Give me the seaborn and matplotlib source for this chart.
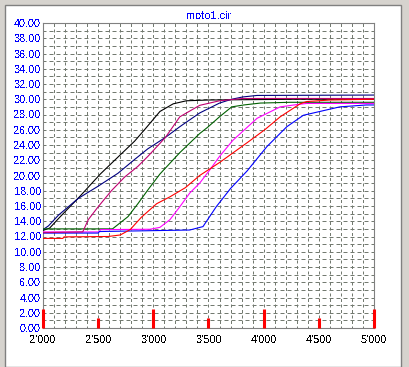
import numpy as np
import pandas as pd
import seaborn as sns
import matplotlib.pyplot as plt
from matplotlib.ticker import MultipleLocator, FuncFormatter
from matplotlib.patches import Rectangle

# curves (x = rpm, y = value)
rpm_black = [2000, 2060, 2150, 2330, 2520, 2700, 2830, 2920, 3060, 3180, 3300, 3500, 4300, 5000]
val_black = [12.8, 13.1, 14.5, 17.2, 20.2, 22.7, 24.5, 26.0, 28.4, 29.4, 29.8, 29.9, 30.0, 30.0]

rpm_navy = [2000, 2050, 2140, 2320, 2500, 2680, 2830, 2950, 3110, 3240, 3420, 3600, 3710, 3810, 3940, 5000]
val_navy = [12.9, 13.4, 14.8, 17.0, 18.6, 20.3, 22.1, 23.5, 25.0, 26.4, 28.2, 29.5, 30.0, 30.3, 30.5, 30.55]

rpm_green = [2000, 2630, 2770, 2860, 2950, 3060, 3240, 3420, 3490, 3600, 3710, 3820, 3970, 4240, 5000]
val_green = [13.0, 13.0, 14.6, 16.3, 18.1, 20.2, 23.0, 25.5, 26.3, 27.7, 29.0, 29.25, 29.5, 29.6, 29.6]

rpm_magenta = [2000, 2510, 2520, 2970, 3060, 3150, 3240, 3330, 3420, 3510, 3600, 3720, 3940, 4150, 4300, 4390, 5000]
val_magenta = [12.6, 12.6, 12.9, 12.95, 13.2, 14.2, 15.9, 17.7, 19.0, 20.7, 22.5, 24.6, 27.5, 29.0, 29.3, 29.45, 29.45]

rpm_blue = [2000, 2500, 2510, 3330, 3450, 3570, 3700, 3850, 4030, 4210, 4360, 4510, 4690, 4930, 5000]
val_blue = [12.45, 12.45, 12.65, 12.85, 13.3, 15.9, 18.3, 20.6, 23.8, 26.4, 27.9, 28.4, 29.0, 29.25, 29.25]

rpm_crimson = [2000, 2360, 2410, 2500, 2620, 2740, 2860, 2950, 3110, 3240, 3420, 3600, 3810, 5000]
val_crimson = [12.5, 12.6, 14.2, 15.9, 18.0, 19.8, 21.2, 22.5, 25.0, 27.7, 29.2, 29.8, 30.1, 30.1]

rpm_red = [2000, 2180, 2190, 2590, 2700, 2790, 2890, 3030, 3150, 3290, 3420, 3600, 3850, 4010, 4150, 4330, 4390, 4600, 5000]
val_red = [11.75, 11.75, 11.95, 12.0, 12.2, 12.9, 14.5, 16.3, 17.2, 18.4, 20.0, 21.7, 24.3, 26.0, 27.7, 29.4, 29.7, 29.9, 30.0]

curves = {
    'black': (rpm_black, val_black, '#000000'),
    'navy': (rpm_navy, val_navy, '#000080'),
    'green': (rpm_green, val_green, '#006000'),
    'magenta': (rpm_magenta, val_magenta, '#FF00FF'),
    'blue': (rpm_blue, val_blue, '#0000FF'),
    'crimson': (rpm_crimson, val_crimson, '#C00070'),
    'red': (rpm_red, val_red, '#FF0000'),
}

rows = []
for name, (xs, ys, _) in curves.items():
    for x, y in zip(xs, ys):
        rows.append((name, x, y))
df = pd.DataFrame(rows, columns=['curve', 'rpm', 'val'])
palette = {k: v[2] for k, v in curves.items()}

sns.set_style('white')
plt.rcParams['font.family'] = ['Liberation Sans', 'DejaVu Sans']
plt.rcParams['text.antialiased'] = False  # crisp, un-smoothed text like the original window

fig = plt.figure(figsize=(4.09, 3.67), dpi=100)
fig.patch.set_facecolor('#D6D3CE')
# window frame
fig.patches.append(Rectangle((5 / 409, 0), 396 / 409, 1 - 5 / 367, transform=fig.transFigure,
                             facecolor='white', edgecolor='#808080', linewidth=1.0, zorder=-5))

ax = fig.add_axes([43 / 409, 1 - 328 / 367, 331 / 409, 305 / 367])
ax.set_facecolor('white')

sns.lineplot(data=df, x='rpm', y='val', hue='curve', hue_order=list(curves.keys()),
             palette=palette, estimator=None, sort=False, legend=False,
             linewidth=0.8, ax=ax, zorder=3)

ax.set_xlim(2000, 5000)
ax.set_ylim(0, 40)

# grid every 100 rpm / 1 unit, labels every 500 / 2
ax.xaxis.set_major_locator(MultipleLocator(100))
ax.yaxis.set_major_locator(MultipleLocator(1))
ax.xaxis.set_major_formatter(FuncFormatter(
    lambda v, p: "{}'{:03d}".format(int(round(v)) // 1000, int(round(v)) % 1000) if round(v) % 500 == 0 else ''))
ax.yaxis.set_major_formatter(FuncFormatter(
    lambda v, p: '{:.2f}'.format(v) if round(v) % 2 == 0 else ''))
ax.grid(True, axis='x', color='#737A70', linewidth=0.72, linestyle=(1, (3, 2.5)))
ax.grid(True, axis='y', color='#737A70', linewidth=0.72, linestyle=(1, (4, 3)))
ax.tick_params(axis='x', length=0, pad=5, labelsize=7.8, labelcolor='black')
ax.tick_params(axis='y', length=0, pad=1.5, labelsize=7.8, labelcolor='#0000FF')
for s in ax.spines.values():
    s.set_color('#808080')
    s.set_linewidth(0.8)
ax.set_xlabel('')
ax.set_ylabel('')
ax.set_title('moto1.cir', color='#0000FF', fontsize=7.8, pad=3)

# red scale markers along the bottom
ax2 = ax.twiny()
ax2.set_xlim(ax.get_xlim())
ax2.xaxis.set_ticks_position('bottom')
ax2.xaxis.set_major_locator(MultipleLocator(1000))
ax2.xaxis.set_minor_locator(MultipleLocator(500))
ax2.tick_params(which='major', direction='in', length=13.5, width=2.2, color='#FF0000', labelbottom=False, labeltop=False)
ax2.tick_params(which='minor', direction='in', length=7, width=2.2, color='#FF0000', labelbottom=False, labeltop=False)
for s in ax2.spines.values():
    s.set_visible(False)

fig.savefig('out.png', dpi=100)
